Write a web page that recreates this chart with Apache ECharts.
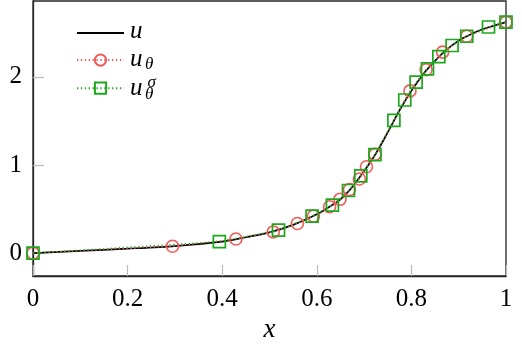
<!DOCTYPE html>
<html>
<head>
<meta charset="utf-8">
<script src="https://cdn.jsdelivr.net/npm/echarts@6/dist/echarts.min.js"></script>
<style>
  html, body { margin: 0; padding: 0; background: #fff; }
  #chart { width: 522px; height: 344px; }
</style>
</head>
<body>
<div id="chart"></div>
<script>
// reference solution u
const uX = [0, 0.1, 0.2, 0.3, 0.4, 0.45, 0.5, 0.55, 0.6, 0.625, 0.65, 0.675, 0.7, 0.725, 0.75, 0.775, 0.8, 0.825, 0.85, 0.875, 0.9, 0.925, 0.95, 0.975, 1]
const uY = [0, 0.025, 0.05, 0.08, 0.13, 0.18, 0.235, 0.32, 0.44, 0.52, 0.61, 0.75, 0.93, 1.13, 1.37, 1.62, 1.84, 2.03, 2.18, 2.31, 2.41, 2.48, 2.54, 2.58, 2.62]

// u_theta samples (red circles)
const thetaX = [0, 0.295, 0.429, 0.508, 0.559, 0.593, 0.627, 0.649, 0.669, 0.69, 0.705, 0.723, 0.797, 0.831, 0.866, 0.917, 1]
const thetaY = [0, 0.077, 0.16, 0.24, 0.336, 0.42, 0.526, 0.61, 0.72, 0.84, 0.98, 1.12, 1.84, 2.08, 2.28, 2.46, 2.62]

// u_theta^sigma samples (green squares)
const sigmaX = [0, 0.394, 0.519, 0.59, 0.633, 0.667, 0.693, 0.723, 0.763, 0.786, 0.81, 0.834, 0.858, 0.886, 0.917, 0.963, 1]
const sigmaY = [0, 0.13, 0.26, 0.42, 0.545, 0.71, 0.877, 1.117, 1.505, 1.737, 1.94, 2.09, 2.23, 2.355, 2.46, 2.565, 2.62]

const yTicks = [0, 1, 2]

const zip = (xs, ys) => xs.map((x, i) => [x, ys[i]])

const serif = 'Liberation Serif'
const red = '#f25a5a'
const green = '#1ca81c'

const chart = echarts.init(document.getElementById('chart'))

// legend labels drawn as text next to the legend samples
const label = (x, y, text, size) => ({
  type: 'text', x: x, y: y,
  style: { text: text, font: 'italic ' + size + 'px "Liberation Serif"', fill: '#000', verticalAlign: 'middle' }
})

const option = {
  animation: false,
  grid: {
    left: 33, right: 16, top: 1, bottom: 68,
    outerBoundsMode: 'none',
    show: true, borderColor: '#262626', borderWidth: 1.3
  },
  legend: {
    orient: 'vertical',
    left: 76, top: 26, padding: 0,
    itemWidth: 47, itemHeight: 14, itemGap: 14.5,
    data: [
      { name: 'u', itemStyle: { color: 'rgba(0,0,0,0)', borderWidth: 0 } },
      'ut', 'us'
    ],
    formatter: () => ''
  },
  graphic: [
    label(130, 31, 'u', 25),
    label(130, 59.5, 'u', 25),
    label(145, 64.5, 'θ', 17),
    label(130, 88.5, 'u', 25),
    label(145, 94.5, 'θ', 17),
    label(147.5, 83, 'σ', 17)
  ],
  xAxis: {
    type: 'value', min: 0, max: 1, interval: 0.2,
    name: 'x', nameLocation: 'middle', nameGap: 39,
    nameTextStyle: { fontFamily: serif, fontStyle: 'italic', fontSize: 27, color: '#000' },
    axisLine: { onZero: false, lineStyle: { color: '#262626', width: 1.3 } },
    axisTick: { inside: true, length: 11, lineStyle: { color: '#bbb', width: 1.2 } },
    axisLabel: { fontFamily: serif, fontSize: 25, color: '#000', margin: 11 },
    splitLine: { show: false }
  },
  yAxis: {
    type: 'value', min: -0.26, max: 2.86,
    axisLine: { show: true, onZero: false, lineStyle: { color: '#262626', width: 1.3 } },
    axisTick: { inside: true, length: 11, customValues: yTicks, lineStyle: { color: '#bbb', width: 1.2 } },
    axisLabel: { fontFamily: serif, fontSize: 25, color: '#000', margin: 11, customValues: yTicks },
    splitLine: { show: false }
  },
  series: [
    {
      name: 'u', type: 'line', smooth: 0.3, symbol: 'none',
      data: zip(uX, uY),
      lineStyle: { color: '#000', width: 1.7 },
      itemStyle: { color: '#000' }
    },
    {
      name: 'ut', type: 'line', symbol: 'circle', symbolSize: 12,
      data: zip(thetaX, thetaY),
      lineStyle: { color: red, width: 1.3, type: [1.3, 2.6] },
      itemStyle: { color: 'rgba(0,0,0,0)', borderColor: red, borderWidth: 1.6 }
    },
    {
      name: 'us', type: 'line', symbol: 'rect', symbolSize: 12,
      data: zip(sigmaX, sigmaY),
      lineStyle: { color: green, width: 1.3, type: [1.3, 2.6] },
      itemStyle: { color: 'rgba(0,0,0,0)', borderColor: green, borderWidth: 1.7 }
    }
  ]
}

chart.setOption(option)
</script>
</body>
</html>
